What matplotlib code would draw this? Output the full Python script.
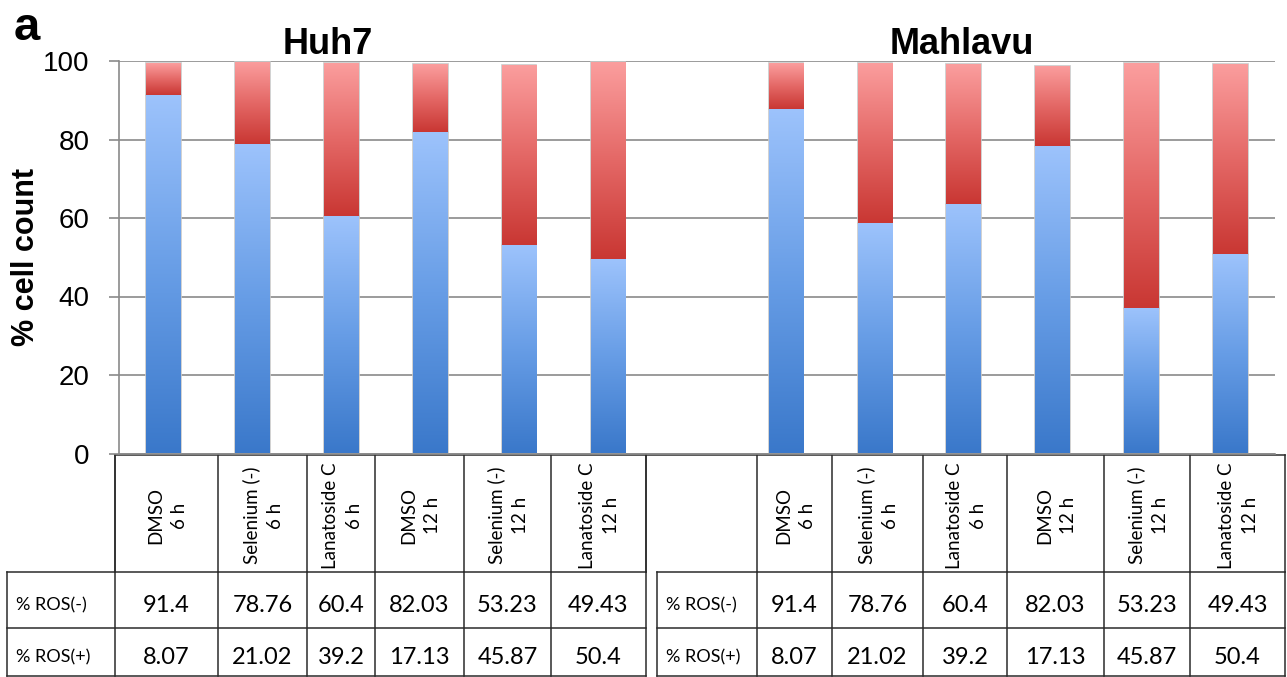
import matplotlib
import numpy as np

matplotlib.use("Agg")
import matplotlib.pyplot as plt
from matplotlib.colors import LinearSegmentedColormap

# values
groups = ["Huh7", "Mahlavu"]
conditions = [
    "DMSO\n6 h",
    "Selenium (-)\n6 h",
    "Lanatoside C\n6 h",
    "DMSO\n12 h",
    "Selenium (-)\n12 h",
    "Lanatoside C\n12 h",
]
row_labels = ["% ROS(-)", "% ROS(+)"]

huh7_neg = [91.4, 78.76, 60.4, 82.03, 53.23, 49.43]
huh7_pos = [8.07, 21.02, 39.2, 17.13, 45.87, 50.4]
mahlavu_neg = [87.7, 58.6, 63.6, 78.3, 37.1, 50.8]
mahlavu_pos = [11.7, 40.8, 35.6, 20.5, 62.3, 48.5]

# the printed Mahlavu table repeats the Huh7 numbers
huh7_table = [huh7_neg, huh7_pos]
mahlavu_table = [huh7_neg, huh7_pos]

W, H = 1287, 677
DPI = 100

blue_cmap = LinearSegmentedColormap.from_list("blu", ["#3a78ca", "#679de6", "#9dc3fc"])
red_cmap = LinearSegmentedColormap.from_list("red", ["#c93733", "#e46866", "#fb9e9e"])
ramp = np.linspace(0, 1, 256).reshape(-1, 1)


def gradient_bars(ax, x, heights, bottoms, cmap, width=0.39):
    bars = ax.bar(x, heights, width, bottom=bottoms, color="none",
                  edgecolor="#c9c9c9", linewidth=1.2, zorder=2)
    for p in bars:
        x0, y0 = p.get_x(), p.get_y()
        im = ax.imshow(ramp, extent=[x0, x0 + p.get_width(), y0, y0 + p.get_height()],
                       origin="lower", aspect="auto", cmap=cmap, zorder=3,
                       interpolation="bilinear")
        im.set_clip_path(p)
    return bars


fig = plt.figure(figsize=(W / DPI, H / DPI), dpi=DPI)
fig.patch.set_facecolor("white")

ax_left, ax_right = 119, 1275
ax_top, ax_bot = 61, 453.5
ax = fig.add_axes([ax_left / W, 1 - ax_bot / H, (ax_right - ax_left) / W, (ax_bot - ax_top) / H])

x_huh7 = np.arange(len(conditions))
x_mahlavu = np.arange(len(conditions)) + len(conditions) + 1

for xs, neg, pos in [(x_huh7, huh7_neg, huh7_pos), (x_mahlavu, mahlavu_neg, mahlavu_pos)]:
    gradient_bars(ax, xs, neg, 0, blue_cmap)
    gradient_bars(ax, xs, pos, neg, red_cmap)

ax.set_xlim(-0.5, 12.5)
ax.set_ylim(0, 100)
ax.set_yticks([0, 20, 40, 60, 80, 100])
ax.set_xticks([])
ax.yaxis.grid(True, color="#8a8a8a", linewidth=1.2)
ax.set_axisbelow(True)
for side in ["top", "right"]:
    ax.spines[side].set_visible(False)
for side in ["left", "bottom"]:
    ax.spines[side].set_color("#8a8a8a")
    ax.spines[side].set_linewidth(1.2)
ax.tick_params(axis="y", length=7, width=1.2, color="#8a8a8a", pad=14,
               labelsize=20, labelfontfamily="Liberation Sans")

fig.text(26 / W, 1 - 257 / H, "% cell count", rotation=90, ha="center", va="center",
         fontsize=22, fontweight="bold", family="Liberation Sans")
fig.text(27 / W, 1 - 28 / H, "a", ha="center", va="center",
         fontsize=34, fontweight="bold", family="Liberation Sans")
fig.text(328 / W, 1 - 44 / H, groups[0], ha="center", va="center",
         fontsize=26, fontweight="bold", family="Liberation Sans")
fig.text(962 / W, 1 - 44 / H, groups[1], ha="center", va="center",
         fontsize=26, fontweight="bold", family="Liberation Sans")

# table drawn in pixel space underneath the chart
tab = fig.add_axes([0, 0, 1, 1], zorder=-1)
tab.set_xlim(0, W)
tab.set_ylim(H, 0)
tab.axis("off")

head_top, head_bot = 455, 572
row_edges = [572, 628, 676]
line_kw = dict(color="#2b2b2b", linewidth=1.1)


def draw_table(cols, label_left, head_left, values):
    # header row
    tab.plot([head_left, cols[-1]], [head_top, head_top], **line_kw)
    for c in cols:
        tab.plot([c, c], [head_top, head_bot], **line_kw)
    tab.plot([head_left, head_left], [head_top, head_bot], **line_kw)
    for i, name in enumerate(conditions):
        tab.text((cols[i] + cols[i + 1]) / 2 + 1, (head_top + head_bot) / 2 + 2, name,
                 rotation=90, ha="center", va="center", multialignment="center",
                 fontsize=13.5, family="Lato", linespacing=1.5)
    # data rows
    for y in row_edges:
        tab.plot([label_left, cols[-1]], [y, y], **line_kw)
    for c in [label_left] + list(cols):
        tab.plot([c, c], [row_edges[0], row_edges[-1]], **line_kw)
    for r, (lab, vals) in enumerate(zip(row_labels, values)):
        yc = (row_edges[r] + row_edges[r + 1]) / 2 + 5
        tab.text(label_left + 9, yc, lab, ha="left", va="center",
                 fontsize=13, family="Lato")
        for i, v in enumerate(vals):
            tab.text((cols[i] + cols[i + 1]) / 2, yc, f"{v:g}", ha="center", va="center",
                     fontsize=17, family="Lato")


draw_table([115, 218, 307, 375, 464, 551, 646], 7, 115, huh7_table)
draw_table([757, 832, 923, 1007, 1104, 1190, 1285], 657, 646, mahlavu_table)

fig.savefig("out.png", dpi=DPI, facecolor="white")
